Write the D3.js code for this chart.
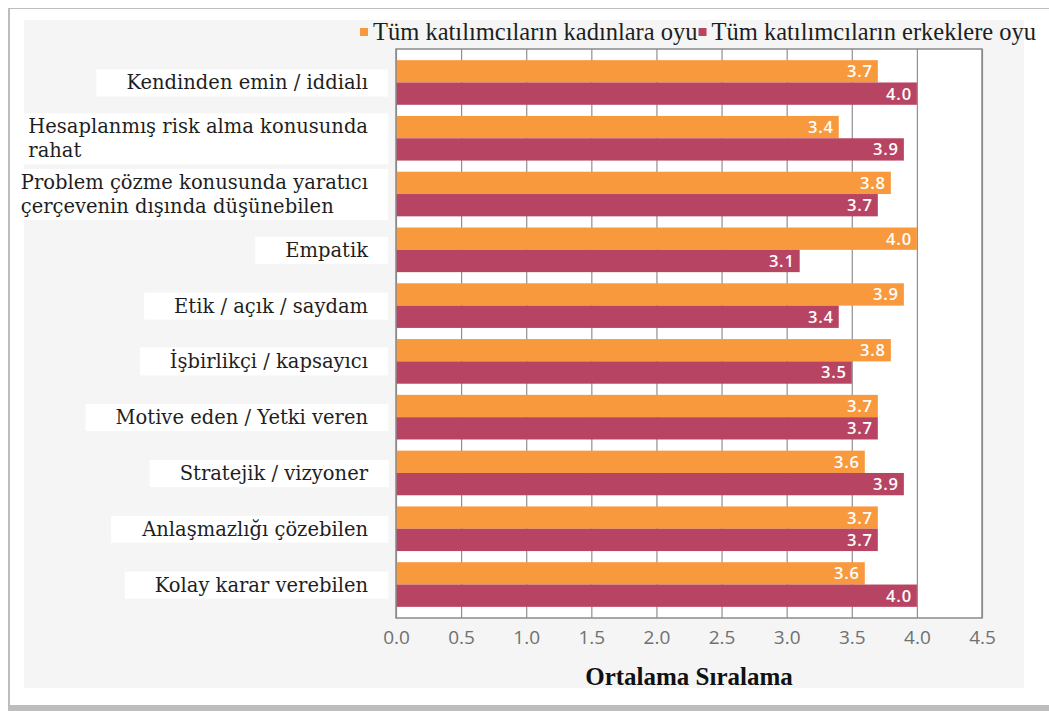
<!DOCTYPE html>
<html>
<head>
<meta charset="utf-8">
<script src="https://cdn.jsdelivr.net/npm/d3@7"></script>
<style>
  body { margin: 0; background: #ffffff; }
  svg { display: block; }
</style>
</head>
<body>
<svg id="drawing_region"></svg>
<script>
// data
const categories = [
    "Kendinden emin / iddialı",
    "Hesaplanmış risk alma konusunda\nrahat",
    "Problem çözme konusunda yaratıcı\nçerçevenin dışında düşünebilen",
    "Empatik",
    "Etik / açık / saydam",
    "İşbirlikçi / kapsayıcı",
    "Motive eden / Yetki veren",
    "Stratejik / vizyoner",
    "Anlaşmazlığı çözebilen",
    "Kolay karar verebilen"
];
const seriesNames = ["Tüm katılımcıların kadınlara oyu", "Tüm katılımcıların erkeklere oyu"];
const womenVotes = [3.7, 3.4, 3.8, 4.0, 3.9, 3.8, 3.7, 3.6, 3.7, 3.6];
const menVotes   = [4.0, 3.9, 3.7, 3.1, 3.4, 3.5, 3.7, 3.9, 3.7, 4.0];
const tickValues = [0, 0.5, 1, 1.5, 2, 2.5, 3, 3.5, 4, 4.5];
const axisTitle = "Ortalama Sıralama";

const colors = ["#f8993e", "#b84463"];

const W = 1049, H = 711;
const plot = {left: 396, right: 982, top: 49, bottom: 618};

const svg = d3.select('#drawing_region')
    .attr('width', W)
    .attr('height', H);

// scanned page look: light grey card with a shadow edge
svg.append('rect').attr('x', 0).attr('y', 0).attr('width', W).attr('height', H).attr('fill', '#ffffff');
svg.append('rect').attr('x', 8).attr('y', 8).attr('width', W - 8).attr('height', H - 8)
    .attr('fill', '#bdbdbd');
svg.append('rect').attr('x', 10).attr('y', 9).attr('width', W - 10).attr('height', H - 15)
    .attr('fill', '#ffffff');
svg.append('rect').attr('x', 24).attr('y', 20).attr('width', 1000).attr('height', 668)
    .attr('fill', '#f5f5f5');

const x = d3.scaleLinear()
    .domain([0, 4.5])
    .range([plot.left, plot.right]);

const y = d3.scaleBand()
    .domain(categories)
    .range([plot.top, plot.bottom])
    .paddingInner(0.2)
    .paddingOuter(0.2);

const ySub = d3.scaleBand()
    .domain([0, 1])
    .range([0, y.bandwidth()]);

const rows = categories.map((c, i) => ({cat: c, values: [womenVotes[i], menVotes[i]]}));

// plot background
svg.append('rect')
    .attr('x', plot.left).attr('y', plot.top)
    .attr('width', plot.right - plot.left).attr('height', plot.bottom - plot.top)
    .attr('fill', '#ffffff');

// x axis with gridlines
const xAxis = svg.append('g')
    .attr('transform', `translate(0, ${plot.bottom})`)
    .call(d3.axisBottom(x)
        .tickValues(tickValues)
        .tickSize(-(plot.bottom - plot.top))
        .tickFormat(d3.format('.1f')));
xAxis.select('.domain').remove();
xAxis.selectAll('.tick line').attr('stroke', '#8f8f8f').attr('stroke-width', 1.2);
xAxis.selectAll('.tick text')
    .attr('y', 26)
    .attr('dy', 0)
    .attr('fill', '#707070')
    .style('font-family', '"Open Sans", sans-serif')
    .style('font-size', '19px');

// bars
const groups = svg.append('g').selectAll('g')
    .data(rows)
    .join('g')
    .attr('transform', d => `translate(0, ${y(d.cat)})`);

groups.selectAll('rect')
    .data(d => d.values)
    .join('rect')
    .attr('x', x(0))
    .attr('y', (d, i) => ySub(i))
    .attr('width', d => x(d) - x(0))
    .attr('height', ySub.bandwidth())
    .attr('fill', (d, i) => colors[i]);

groups.selectAll('text')
    .data(d => d.values)
    .join('text')
    .attr('x', d => x(d) - 5)
    .attr('y', (d, i) => ySub(i) + ySub.bandwidth() / 2)
    .attr('dy', '0.36em')
    .attr('text-anchor', 'end')
    .attr('fill', '#ffffff')
    .style('font-family', '"Open Sans", sans-serif')
    .style('font-weight', 600)
    .style('font-size', '16.5px')
    .style('letter-spacing', '0.8px')
    .text(d => d.toFixed(1));

// frame
svg.append('rect')
    .attr('x', plot.left).attr('y', plot.top)
    .attr('width', plot.right - plot.left).attr('height', plot.bottom - plot.top)
    .attr('fill', 'none')
    .attr('stroke', '#8a8a8a')
    .attr('stroke-width', 1.5);

// category labels
const labelRight = 368;
const lineH = 24;
const labels = svg.append('g').selectAll('g')
    .data(categories)
    .join('g');

labels.each(function(c) {
    const g = d3.select(this);
    const lines = c.split('\n');
    const cy = y(c) + y.bandwidth() / 2;
    const bg = g.append('rect').attr('fill', '#ffffff');
    const t = g.append('text')
        .attr('fill', '#1e1e1e')
        .style('font-family', '"DejaVu Serif", serif')
        .style('font-size', '19.5px');
    lines.forEach((ln, i) => {
        t.append('tspan')
            .attr('y', cy + (i - (lines.length - 1) / 2) * lineH)
            .attr('dy', '0.36em')
            .text(ln);
    });
    const widths = t.selectAll('tspan').nodes().map(n => n.getComputedTextLength());
    const maxW = d3.max(widths);
    if (lines.length > 1) {
        t.selectAll('tspan').attr('x', labelRight - maxW);
    } else {
        t.selectAll('tspan').attr('x', labelRight).attr('text-anchor', 'end');
    }
    const bb = t.node().getBBox();
    const bx = Math.max(24, bb.x - 30);
    bg.attr('x', bx).attr('y', bb.y - 2)
      .attr('width', bb.x + bb.width + 20 - bx).attr('height', bb.height + 4);
});

// axis title
svg.append('text')
    .attr('x', (plot.left + plot.right) / 2)
    .attr('y', 685)
    .attr('text-anchor', 'middle')
    .attr('fill', '#111111')
    .style('font-family', '"Liberation Serif", serif')
    .style('font-weight', 'bold')
    .style('font-size', '25px')
    .text(axisTitle);

// legend
const legend = svg.append('g');
let lx = 360;
seriesNames.forEach((name, i) => {
    legend.append('rect')
        .attr('x', lx).attr('y', 28)
        .attr('width', 8).attr('height', 8)
        .attr('fill', colors[i]);
    const t = legend.append('text')
        .attr('x', lx + 13)
        .attr('y', 40)
        .attr('fill', '#1e1e1e')
        .style('font-family', '"Liberation Serif", serif')
        .style('font-size', '24.5px')
        .text(name);
    lx = lx + 13 + t.node().getComputedTextLength() + 1;
});
</script>
</body>
</html>
